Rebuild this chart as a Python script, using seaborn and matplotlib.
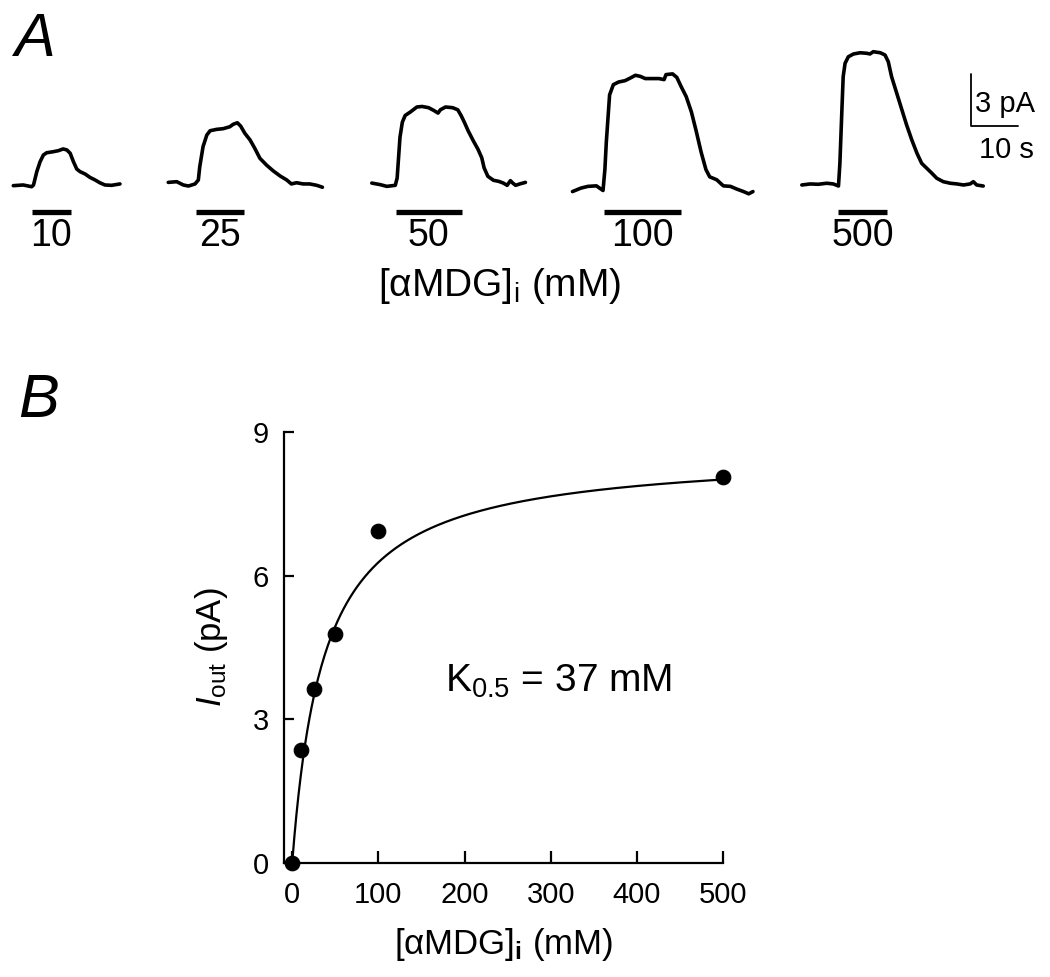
import numpy as np
import pandas as pd
import seaborn as sns
import matplotlib.pyplot as plt

sns.set_theme(style="ticks")
plt.rcParams['font.family'] = ['Liberation Sans', 'DejaVu Sans']
plt.rcParams['mathtext.fontset'] = 'custom'
plt.rcParams['mathtext.rm'] = 'Liberation Sans'
plt.rcParams['mathtext.it'] = 'Liberation Sans:italic'
plt.rcParams['mathtext.bf'] = 'Liberation Sans:bold'
for key in ['text.color', 'axes.labelcolor', 'xtick.color', 'ytick.color', 'axes.edgecolor']:
    plt.rcParams[key] = 'black'

# Panel A: current traces (time in s from trace start, current in pA)
conc_labels = ['10', '25', '50', '100', '500']

t10 = [0, 2.1, 3.9, 4.3, 5.0, 5.7, 6.4, 7.1, 8.5, 9.6, 10.6, 11.4, 12.1, 12.8, 13.5,
       14.2, 15.3, 16.3, 17.4, 18.4, 19.5, 20.9, 22.7]
i10 = [-0.01, 0.03, -0.07, 0.03, 0.80, 1.37, 1.76, 1.89, 1.95, 2.01, 2.11, 2.05, 1.86,
       1.37, 0.95, 0.80, 0.66, 0.47, 0.32, 0.16, 0.03, 0.01, 0.09]

t25 = [0, 1.8, 3.2, 4.3, 5.7, 6.4, 6.7, 7.4, 8.2, 8.9, 10.3, 11.7, 13.1, 13.8, 14.7,
       15.4, 16.3, 17.4, 18.4, 19.5, 20.9, 22.3, 23.8, 25.2, 26.2, 27.3, 28.7, 30.1, 31.6, 32.8]
i25 = [0.18, 0.22, 0.03, -0.03, 0.09, 0.32, 1.08, 2.24, 2.91, 3.16, 3.24, 3.28, 3.39, 3.53,
       3.62, 3.43, 3.01, 2.63, 2.15, 1.57, 1.18, 0.85, 0.55, 0.32, 0.09, 0.16, 0.09, 0.09, 0.01, -0.10]

t50 = [0, 1.8, 3.2, 5.0, 5.4, 5.7, 6.0, 6.5, 7.1, 8.2, 9.6, 10.7, 12.1, 13.2, 14.1, 14.6,
       15.7, 17.2, 18.3, 19.0, 19.7, 20.5, 21.6, 22.6, 23.4, 23.9, 24.7, 25.9, 27.0, 28.0,
       28.8, 29.5, 30.0, 30.6, 31.6, 32.7]
i50 = [0.14, 0.05, -0.05, 0.01, 0.43, 1.60, 2.78, 3.65, 4.04, 4.24, 4.53, 4.56, 4.49, 4.33,
       4.18, 4.37, 4.53, 4.49, 4.37, 4.04, 3.65, 3.16, 2.58, 2.09, 1.60, 1.02, 0.53, 0.30,
       0.24, 0.14, 0.01, 0.28, 0.14, 0.01, 0.10, 0.18]

t100 = [0, 1.8, 3.3, 5.1, 6.5, 6.9, 7.2, 7.6, 7.9, 8.7, 9.8, 11.2, 12.3, 13.4, 14.4, 15.5,
        17.0, 18.4, 19.5, 19.9, 21.3, 22.2, 23.1, 24.2, 25.3, 26.3, 27.4, 28.4, 29.2, 30.7,
        32.1, 33.6, 35.0, 36.4, 37.5, 38.4]
i100 = [-0.35, -0.15, -0.05, -0.02, -0.29, 0.92, 2.49, 4.05, 5.23, 5.82, 5.97, 6.05, 6.20,
        6.36, 6.30, 6.17, 6.17, 6.17, 6.11, 6.40, 6.44, 6.24, 5.72, 5.13, 4.25, 3.17, 1.90,
        0.92, 0.50, 0.33, -0.02, -0.05, -0.21, -0.35, -0.48, -0.35]

t500 = [0, 1.8, 3.5, 5.3, 6.7, 7.8, 8.1, 8.5, 8.8, 9.2, 9.9, 11.0, 12.4, 13.8, 14.5, 15.2,
        16.7, 17.7, 18.4, 19.1, 20.2, 21.3, 22.3, 23.4, 24.5, 25.5, 26.6, 27.7, 28.7, 30.1,
        31.6, 33.0, 34.4, 35.8, 36.5, 37.2, 38.6]
i500 = [0.03, 0.09, 0.07, 0.13, 0.09, -0.03, 1.28, 4.17, 6.28, 7.05, 7.43, 7.59, 7.66, 7.63,
        7.59, 7.72, 7.66, 7.53, 7.14, 6.28, 5.32, 4.36, 3.49, 2.63, 1.86, 1.28, 0.99, 0.70,
        0.42, 0.22, 0.13, 0.09, 0.03, 0.09, 0.22, 0.03, -0.03]

# sugar application periods (s from trace start)
bar_on = [3.9, 5.9, 5.2, 6.7, 7.7]
bar_off = [12.3, 16.2, 19.1, 23.1, 18.1]

# Panel B: dose response
conc = [0, 10, 25, 50, 100, 500]
iout = [0, 2.37, 3.63, 4.79, 6.94, 8.05]
imax = 8.6
k_half = 37

# layout (trace start positions in s on panel A's time axis)
trace_start = [2.83, 35.8, 79.1, 121.8, 170.6]
px_per_s = 4.7
px_per_pa = 17.33

fig = plt.figure(figsize=(10.5, 9.77), dpi=100)

# ---- Panel A ----
axA = fig.add_axes([0, 1 - 320 / 977, 1, 320 / 977])
axA.set_xlim(0, 1050 / px_per_s)
axA.set_ylim(-(320 - 185.5) / px_per_pa, 185.5 / px_per_pa)
axA.axis('off')

traces = [(t10, i10), (t25, i25), (t50, i50), (t100, i100), (t500, i500)]
rows = []
for k, (tt, ii) in enumerate(traces):
    for a, b in zip(tt, ii):
        rows.append({'t': a + trace_start[k], 'I': b, 'trace': conc_labels[k]})
trace_df = pd.DataFrame(rows)
sns.lineplot(data=trace_df, x='t', y='I', units='trace', estimator=None, sort=False,
             color='black', lw=2.6, ax=axA, legend=False)

bar_y = -1.53
for k in range(5):
    x0 = trace_start[k] + bar_on[k]
    x1 = trace_start[k] + bar_off[k]
    axA.plot([x0, x1], [bar_y, bar_y], color='black', lw=3.8, solid_capstyle='butt')
    axA.text((x0 + x1) / 2, -1.85, conc_labels[k], ha='center', va='top', fontsize=27)

axA.text(106.2, -6.38, r'[αMDG]$_{\mathrm{i}}$ (mM)', ha='center', va='baseline', fontsize=28)

# scale bar
sb_x = 971 / px_per_s
sb_y = (185.5 - 126) / px_per_pa
axA.plot([sb_x, sb_x, sb_x + 10], [sb_y + 3, sb_y, sb_y], color='black', lw=1.3)
axA.text(sb_x + 0.8, sb_y + 0.81, '3 pA', fontsize=21, va='baseline')
axA.text(sb_x + 1.8, sb_y - 1.84, '10 s', fontsize=21, va='baseline')

fig.text(14 / 1050, 1 - 56 / 977, 'A', fontsize=44, style='italic', va='baseline')
fig.text(18 / 1050, 1 - 417 / 977, 'B', fontsize=44, style='italic', va='baseline')

# ---- Panel B ----
axB = fig.add_axes([284 / 1050, 1 - 863 / 977, (723 - 284) / 1050, (863 - 432) / 977])
xfit = np.linspace(0, 500, 400)
fit_df = pd.DataFrame({'x': xfit, 'y': imax * xfit / (k_half + xfit)})
sns.lineplot(data=fit_df, x='x', y='y', color='black', lw=1.6, ax=axB)
sns.scatterplot(x=conc, y=iout, color='black', s=110, edgecolor='black', zorder=5,
                clip_on=False, ax=axB)

axB.set_xlim(-9.5, 500)
axB.set_ylim(0, 9)
axB.set_xticks([0, 100, 200, 300, 400, 500])
axB.set_yticks([0, 3, 6, 9])
sns.despine(ax=axB)
for s in ['left', 'bottom']:
    axB.spines[s].set_linewidth(1.6)
axB.tick_params(axis='x', direction='in', length=9, width=1.6, labelsize=21, pad=13)
axB.tick_params(axis='y', direction='in', length=7, width=1.6, labelsize=21, pad=11)
axB.set_xlabel(r'[αMDG]$_{\mathbf{i}}$ (mM)', fontsize=25, labelpad=12)
axB.set_ylabel(r'$\mathit{I}_{\mathrm{out}}$ (pA)', fontsize=25, labelpad=16)
axB.text(177.5, 3.57, r'K$_{0.5}$ = 37 mM', fontsize=28, va='baseline')

fig.savefig('out.png', dpi=100)
